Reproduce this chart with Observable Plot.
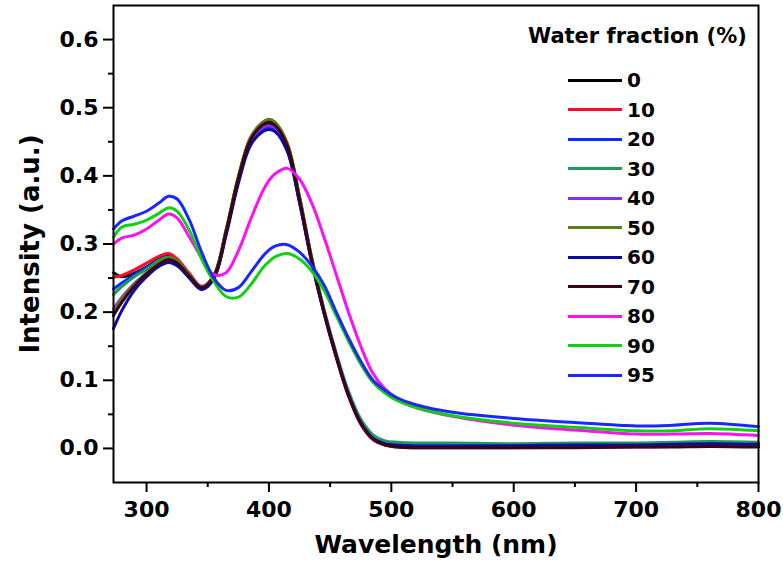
<!DOCTYPE html>
<html><head><meta charset="utf-8">
<script src="https://cdn.jsdelivr.net/npm/d3@7"></script>
<script src="https://cdn.jsdelivr.net/npm/@observablehq/plot@0.6"></script>
<style>
body{margin:0;background:#fff}
#wrap{position:relative;width:783px;height:577px;font-family:"DejaVu Sans",sans-serif;font-weight:bold;color:#000}
#legend{position:absolute;left:0;top:0}
.lt{position:absolute;font-size:21px;white-space:nowrap;line-height:1}
.li{position:absolute;height:3px;width:54px}
.ll{position:absolute;font-size:20px;line-height:1}
</style></head>
<body><div id="wrap"><div id="legend"></div></div>
<script>
const wavelength = [273,280,290,300,310,318,325,335,345,355,365,375,385,395,400,405,415,425,435,445,455,465,475,485,495,505,520,550,600,650,700,730,760,800];
const w0  = [0.258,0.252,0.257,0.266,0.278,0.282,0.275,0.255,0.237,0.254,0.320,0.398,0.455,0.477,0.481,0.477,0.446,0.368,0.278,0.202,0.137,0.079,0.038,0.014,0.006,0.003,0.002,0.002,0.002,0.002,0.003,0.003,0.004,0.003];
const w10 = [0.251,0.254,0.262,0.272,0.282,0.286,0.278,0.257,0.238,0.253,0.318,0.395,0.452,0.473,0.476,0.472,0.441,0.363,0.274,0.199,0.134,0.077,0.036,0.013,0.005,0.003,0.002,0.002,0.002,0.003,0.003,0.004,0.005,0.004];
const w20 = [0.234,0.243,0.255,0.265,0.276,0.279,0.272,0.252,0.235,0.251,0.316,0.392,0.449,0.469,0.472,0.468,0.438,0.361,0.273,0.199,0.134,0.078,0.037,0.014,0.006,0.004,0.003,0.003,0.003,0.004,0.004,0.005,0.006,0.005];
const w30 = [0.226,0.238,0.252,0.263,0.276,0.281,0.275,0.255,0.237,0.252,0.317,0.394,0.451,0.472,0.475,0.471,0.442,0.366,0.278,0.204,0.140,0.084,0.043,0.020,0.011,0.009,0.008,0.008,0.007,0.008,0.008,0.009,0.010,0.009];
const w40 = [0.205,0.222,0.242,0.257,0.270,0.275,0.270,0.251,0.234,0.250,0.316,0.393,0.450,0.471,0.474,0.470,0.440,0.363,0.274,0.199,0.134,0.077,0.036,0.013,0.005,0.002,0.001,0.001,0.001,0.002,0.002,0.003,0.004,0.003];
const w50 = [0.200,0.220,0.240,0.258,0.272,0.279,0.274,0.254,0.236,0.253,0.321,0.399,0.457,0.479,0.483,0.479,0.448,0.370,0.280,0.203,0.137,0.079,0.038,0.014,0.006,0.003,0.002,0.002,0.002,0.003,0.003,0.004,0.005,0.004];
const w60 = [0.176,0.203,0.232,0.252,0.267,0.273,0.268,0.250,0.233,0.249,0.313,0.389,0.445,0.465,0.468,0.465,0.436,0.361,0.274,0.200,0.136,0.079,0.038,0.015,0.007,0.005,0.004,0.004,0.004,0.005,0.005,0.006,0.007,0.006];
const w70 = [0.195,0.215,0.238,0.256,0.270,0.277,0.272,0.253,0.236,0.252,0.318,0.396,0.453,0.475,0.478,0.474,0.444,0.366,0.276,0.200,0.135,0.078,0.037,0.014,0.005,0.002,0.001,0.001,0.001,0.001,0.002,0.002,0.003,0.002];
const w80 = [0.300,0.309,0.313,0.322,0.335,0.344,0.338,0.310,0.280,0.255,0.258,0.290,0.336,0.378,0.393,0.403,0.411,0.395,0.360,0.310,0.255,0.200,0.150,0.110,0.087,0.072,0.060,0.047,0.034,0.027,0.021,0.021,0.022,0.019];
const w90 = [0.310,0.325,0.329,0.335,0.345,0.353,0.348,0.320,0.278,0.245,0.223,0.222,0.240,0.265,0.274,0.281,0.286,0.278,0.260,0.232,0.195,0.158,0.124,0.097,0.081,0.070,0.060,0.048,0.037,0.031,0.026,0.026,0.029,0.026];
const w95 = [0.322,0.334,0.341,0.348,0.360,0.370,0.366,0.335,0.288,0.250,0.232,0.236,0.258,0.282,0.291,0.297,0.299,0.288,0.268,0.240,0.200,0.162,0.128,0.100,0.085,0.074,0.064,0.053,0.044,0.038,0.033,0.034,0.037,0.032];

const seriesNames = ["0","10","20","30","40","50","60","70","80","90","95"];
const seriesValues = [w0,w10,w20,w30,w40,w50,w60,w70,w80,w90,w95];
const seriesColors = ["#000000","#ff0a2a","#0a2cff","#1e9a5c","#8a2df0","#5f7a18","#0a0aa8","#3a0412","#ff10f0","#10d010","#1a28ff"];
const xMajor = [300,400,500,600,700,800];
const xMinor = [350,450,550,650,750];
const yMajor = [0,0.1,0.2,0.3,0.4,0.5,0.6];
const yMinor = [0.05,0.15,0.25,0.35,0.45,0.55];
const xTitle = "Wavelength (nm)";
const yTitle = "Intensity (a.u.)";
const legendTitle = "Water fraction (%)";

const rows = seriesNames.flatMap((name, i) => wavelength.map((wl, j) => ({name, wl, v: seriesValues[i][j]})));

const chart = Plot.plot({
  width: 783, height: 577,
  marginLeft: 113, marginRight: 25, marginTop: 5, marginBottom: 95,
  style: {fontFamily: "DejaVu Sans, sans-serif", fontWeight: "bold", fontSize: "22px", color: "#000", background: "#fff", overflow: "visible"},
  x: {domain: [273, 800]},
  y: {domain: [-0.05, 0.65]},
  color: {domain: seriesNames, range: seriesColors},
  marks: [
    Plot.line(rows, {x: "wl", y: "v", z: "name", stroke: "name", strokeWidth: 3, curve: "catmull-rom"}),
    Plot.frame({stroke: "#000", strokeWidth: 2}),
    Plot.axisX(xMajor, {tickSize: 10, tickPadding: 9, strokeWidth: 2, label: null, fontSize: 22, fontWeight: "bold"}),
    Plot.axisX(xMinor, {tickSize: 5, tickFormat: () => "", strokeWidth: 2, label: null}),
    Plot.axisY(yMajor, {tickSize: 10, tickPadding: 5, tickFormat: d3.format(".1f"), strokeWidth: 2, label: null, fontSize: 22, fontWeight: "bold"}),
    Plot.axisY(yMinor, {tickSize: 5, tickFormat: () => "", strokeWidth: 2, label: null}),
    Plot.text([xTitle], {text: d => d, frameAnchor: "bottom", dy: 70, fontSize: 25, fontWeight: "bold"}),
    Plot.text([yTitle], {text: d => d, frameAnchor: "left", dx: -83, rotate: -90, textAnchor: "middle", fontSize: 26, fontWeight: "bold"})
  ]
});
const wrap = document.getElementById("wrap");
wrap.insertBefore(chart, wrap.firstChild);

const legend = document.getElementById("legend");
const t = document.createElement("div");
t.className = "lt"; t.textContent = legendTitle;
t.style.left = "528px"; t.style.top = "26px";
legend.appendChild(t);
seriesNames.forEach((name, i) => {
  const cy = 80 + i * 29.5;
  const l = document.createElement("div");
  l.className = "li"; l.style.left = "568px"; l.style.top = (cy - 1.5) + "px";
  l.style.background = seriesColors[i];
  legend.appendChild(l);
  const s = document.createElement("div");
  s.className = "ll"; s.textContent = name;
  s.style.left = "627px"; s.style.top = (cy - 10) + "px";
  legend.appendChild(s);
});
</script>
</body></html>
